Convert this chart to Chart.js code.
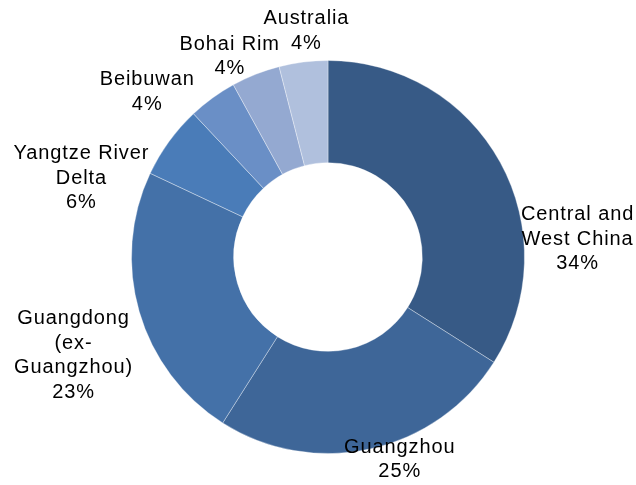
<!DOCTYPE html>
<html>
<head>
<meta charset="utf-8">
<script src="https://cdn.jsdelivr.net/npm/chart.js@4"></script>
<style>
  html, body { margin: 0; padding: 0; background: #fff; }
  #wrap { width: 636px; height: 485px; }
</style>
</head>
<body>
<div id="wrap"><canvas id="chart"></canvas></div>
<script>
// data
const categories = [
    ['Central and', 'West China'],
    ['Guangzhou'],
    ['Guangdong', '(ex-', 'Guangzhou)'],
    ['Yangtze River', 'Delta'],
    ['Beibuwan'],
    ['Bohai Rim'],
    ['Australia']
];
const shares = [34, 25, 23, 6, 4, 4, 4];
const sliceColors = ['#375a86', '#3e6698', '#4471a8', '#4a7cb8', '#6a8fc6', '#94a9d1', '#b0c0dd'];

// label block centres, relative to the ring centre in units of outer radius
const labelAnchors = [
    [1.27, -0.09], [0.365, 1.03], [-1.295, 0.50], [-1.255, -0.40],
    [-0.92, -0.84], [-0.50, -1.02], [-0.11, -1.15]
];

const labelPlugin = {
    id: 'outerLabels',
    afterDraw(chart) {
        const ctx = chart.ctx;
        const arcs = chart.getDatasetMeta(0).data;
        if (!arcs.length) return;
        const cx = arcs[0].x, cy = arcs[0].y, r = arcs[0].outerRadius;
        const lineH = 24.5;
        ctx.save();
        ctx.font = '20px "Liberation Sans", Arial, sans-serif';
        ctx.letterSpacing = '0.9px';
        ctx.fillStyle = '#000';
        ctx.textAlign = 'center';
        ctx.textBaseline = 'middle';
        categories.forEach((lines, i) => {
            const all = lines.concat([shares[i] + '%']);
            const x = cx + labelAnchors[i][0] * r;
            const y0 = cy + labelAnchors[i][1] * r - (all.length - 1) * lineH / 2;
            all.forEach((t, k) => ctx.fillText(t, x, y0 + k * lineH));
        });
        ctx.restore();
    }
};

new Chart(document.getElementById('chart'), {
    type: 'doughnut',
    data: {
        labels: categories.map(l => l.join(' ')),
        datasets: [{
            data: shares,
            backgroundColor: sliceColors,
            borderColor: 'rgba(255,255,255,0.35)',
            borderWidth: 1
        }]
    },
    options: {
        responsive: true,
        maintainAspectRatio: false,
        animation: false,
        cutout: '48%',
        layout: { padding: { top: 60, bottom: 31, left: 30, right: 10 } },
        plugins: {
            legend: { display: false },
            tooltip: { enabled: false }
        }
    },
    plugins: [labelPlugin]
});
</script>
</body>
</html>
